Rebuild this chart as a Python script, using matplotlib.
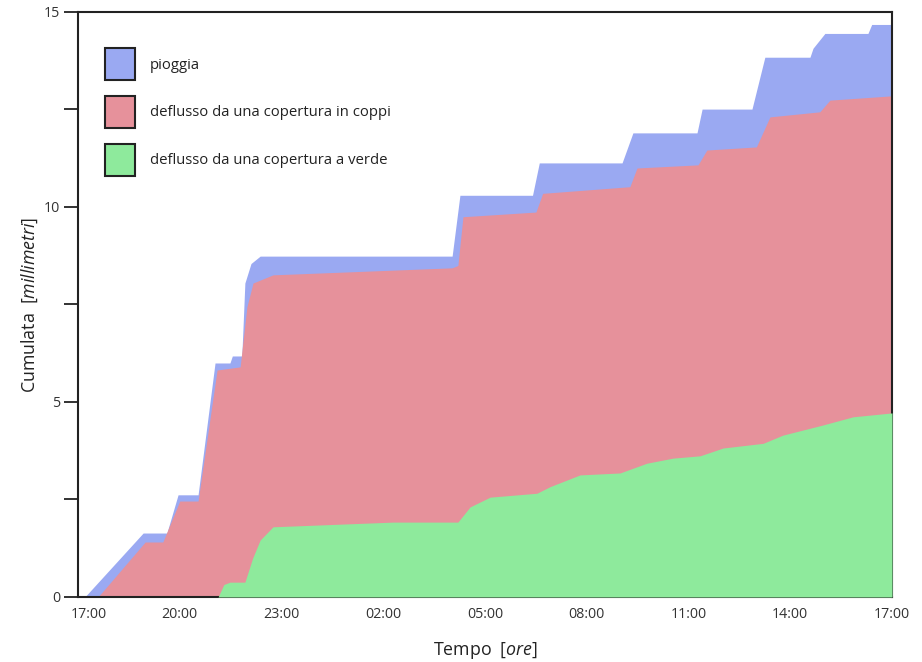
import numpy as np
import matplotlib.pyplot as plt
from matplotlib.patches import Patch
from matplotlib.transforms import ScaledTranslation

plt.rcParams['font.family'] = ['Open Sans', 'DejaVu Sans']
plt.rcParams['mathtext.fontset'] = 'custom'
plt.rcParams['mathtext.it'] = 'Open Sans:italic'
plt.rcParams['mathtext.rm'] = 'Open Sans'

# ore trascorse dalle 17:00
t_pioggia = [0.2, 1.92, 2.62, 2.95, 3.54, 4.04, 4.48, 4.55, 4.83, 4.92, 5.1, 5.37,
             11.03, 11.26, 13.4, 13.6, 16.04, 16.36, 18.25, 18.4, 19.87, 20.25,
             21.58, 21.67, 22.02, 23.29, 23.4, 24.0]
pioggia = [0.0, 1.64, 1.64, 2.62, 2.62, 6.0, 6.0, 6.18, 6.18, 8.05, 8.55, 8.74,
           8.74, 10.3, 10.3, 11.13, 11.13, 11.9, 11.9, 12.51, 12.51, 13.84,
           13.84, 14.07, 14.45, 14.45, 14.68, 14.68]

t_coppi = [0.59, 1.98, 2.5, 3.0, 3.54, 4.1, 4.78, 4.98, 5.16, 5.75, 11.03, 11.2,
           11.35, 13.5, 13.7, 16.27, 16.48, 18.28, 18.54, 20.0, 20.4, 21.87,
           22.17, 24.0]
coppi = [0.0, 1.41, 1.41, 2.46, 2.46, 5.82, 5.9, 7.44, 8.05, 8.26, 8.44, 8.5,
         9.75, 9.87, 10.35, 10.52, 11.0, 11.08, 11.46, 11.54, 12.31, 12.44,
         12.74, 12.85]

t_verde = [4.13, 4.3, 4.48, 4.92, 5.15, 5.37, 5.75, 9.29, 11.2, 11.56, 12.15,
           13.53, 13.92, 14.8, 15.98, 16.77, 17.54, 18.34, 19.02, 20.2, 20.78,
           21.96, 22.85, 24.0]
verde = [0.0, 0.32, 0.38, 0.38, 1.0, 1.46, 1.8, 1.92, 1.92, 2.31, 2.56,
         2.66, 2.83, 3.13, 3.18, 3.43, 3.56, 3.62, 3.82, 3.94, 4.15,
         4.41, 4.62, 4.72]

ore_tick = [0, 3, 6, 9, 12, 15, 18, 21, 24]
ore_lab = ['17:00', '20:00', '23:00', '02:00', '05:00', '08:00', '11:00', '14:00', '17:00']

c_blu = '#9aa9f2'
c_ros = '#e6919b'
c_ver = '#8eea9c'

fig = plt.figure(figsize=(9.22, 6.62), dpi=100)
ax = fig.add_axes([0.0846, 0.0982, 0.8829, 0.8837])

ax.fill_between(t_pioggia, pioggia, 0, color=c_blu, lw=0, zorder=1)
ax.fill_between(t_coppi, coppi, 0, color=c_ros, lw=0, zorder=2)
ax.fill_between(t_verde, verde, 0, color=c_ver, lw=0, zorder=3)

ax.set_xlim(0, 24)
ax.set_ylim(0, 15)
ax.set_xticks(ore_tick)
ax.set_xticklabels(ore_lab)
ax.set_yticks(np.arange(0, 15.1, 2.5))
ax.set_yticklabels(['0', '', '5', '', '10', '', '15'])
ax.tick_params(axis='x', length=0, pad=7, labelsize=10.3, colors='#333333')
ax.tick_params(axis='y', length=10, width=1.3, pad=3, labelsize=10.3, colors='#333333')
ax.tick_params(axis='y', color='#222222')

# sposta a destra la prima etichetta
lab0 = ax.get_xticklabels()[0]
lab0.set_transform(lab0.get_transform() + ScaledTranslation(11/100, 0, fig.dpi_scale_trans))

for s in ax.spines.values():
    s.set_linewidth(1.5)
    s.set_color('#222222')

ax.set_xlabel(r'Tempo  $\it{[ore]}$', fontsize=12.8, labelpad=13, color='#222222')
ax.set_ylabel(r'Cumulata  $\it{[millimetri]}$', fontsize=12.8, labelpad=3, color='#222222')

handles = [Patch(facecolor=c_blu, edgecolor='#222222', lw=1.5, label='pioggia'),
           Patch(facecolor=c_ros, edgecolor='#222222', lw=1.5, label='deflusso da una copertura in coppi'),
           Patch(facecolor=c_ver, edgecolor='#222222', lw=1.5, label='deflusso da una copertura a verde')]
ax.legend(handles=handles, loc='upper left', bbox_to_anchor=(0.033, 0.938), frameon=False,
          fontsize=10.7, handlelength=2.05, handleheight=2.95, labelspacing=1.05,
          handletextpad=1.0, borderpad=0, borderaxespad=0, labelcolor='#222222')

plt.savefig('out.png', dpi=100)
